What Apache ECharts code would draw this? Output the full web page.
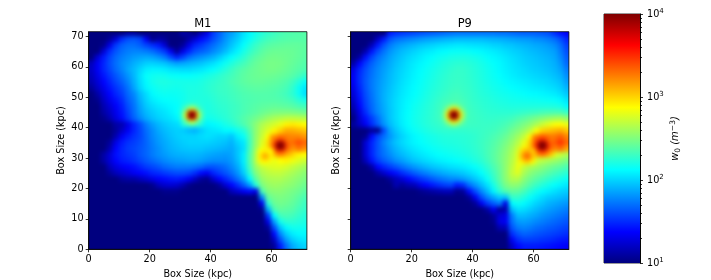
<!DOCTYPE html>
<html><head><meta charset="utf-8">
<script src="https://cdn.jsdelivr.net/npm/echarts@6/dist/echarts.min.js"></script>
<style>html,body{margin:0;padding:0;background:#fff}#c{width:711px;height:280px}</style>
</head><body><div id="c"></div>
<script>
// Cell centres in kpc
const xCenters=[1,3,5,7,9,11,13,15,17,19,21,23,25,27,29,31,33,35,37,39,41,43,45,47,49,51,53,55,57,59,61,63,65,67,69,71];
const yCenters=[71,69,67,65,63,61,59,57,55,53,51,49,47,45,43,41,39,37,35,33,31,29,27,25,23,21,19,17,15,13,11,9,7,5,3,1];
// w0 (m^-3), top row first
const m1Grid=[
[10,10,10,10,10,10,12,12,10,10,10,10,10,10,10,13,12,10,14,20,35,45,60,70,85,110,130,150,170,185,200,215,225,230,235,240],
[10,10,10,12,18,32,40,42,38,22,11,13,12,10,10,10,13,18,25,30,40,50,65,80,95,120,140,165,190,210,220,230,235,240,240,240],
[10,10,11,20,35,45,50,50,45,38,32,28,18,10,10,12,20,30,35,42,50,60,72,90,110,135,165,195,220,240,250,255,260,260,260,250],
[10,10,18,32,42,50,56,58,58,55,50,42,35,22,12,20,30,40,45,50,60,70,85,105,125,155,185,215,245,265,275,275,275,270,260,250],
[10,18,28,38,48,56,62,68,72,75,72,65,55,40,30,38,50,58,65,72,80,95,115,135,155,180,215,245,265,285,290,285,280,270,260,245],
[15,22,30,40,50,60,68,78,88,98,100,95,90,80,72,75,80,85,90,100,110,125,145,165,190,210,240,265,285,300,300,295,280,265,250,235],
[16,22,30,38,48,58,72,85,102,120,125,125,120,112,108,105,105,110,115,125,135,150,170,195,220,240,260,275,285,295,295,285,270,255,240,225],
[15,20,27,34,42,52,65,82,110,135,145,150,148,140,138,135,135,140,145,155,165,180,195,210,230,250,265,275,280,280,275,265,255,240,215,185],
[14,18,24,30,38,46,58,78,105,130,150,160,162,158,155,155,155,155,160,170,180,190,200,220,235,250,260,265,265,260,255,245,230,205,170,140],
[12,16,21,27,33,40,52,72,100,125,140,150,155,152,150,155,160,160,165,175,185,195,200,210,225,235,245,250,250,245,240,230,215,185,145,115],
[10,13,18,24,30,36,48,60,85,105,130,140,145,143,145,150,160,160,165,170,180,190,195,205,215,225,230,235,235,235,230,220,205,180,145,110],
[10,11,16,21,26,32,44,55,78,100,118,128,135,137,140,150,160,165,165,165,175,185,190,200,210,220,225,230,235,235,235,230,220,205,175,155],
[10,10,14,18,23,29,40,52,72,92,105,115,122,130,135,150,180,185,170,160,170,180,185,195,205,220,230,240,250,255,260,255,250,240,220,205],
[10,10,13,16,21,27,37,50,68,84,95,105,112,122,135,165,250,260,175,160,165,175,180,195,205,220,235,250,270,290,305,310,310,305,295,280],
[10,10,11,14,19,25,34,46,60,75,88,97,105,112,125,160,240,250,170,150,155,165,175,190,210,235,260,290,330,380,420,450,480,490,470,450],
[10,10,10,10,13,14,20,30,40,55,70,82,92,100,105,115,125,125,115,125,130,140,155,170,195,225,270,340,430,500,560,650,800,850,800,750],
[10,10,10,10,12,16,22,30,38,50,62,75,85,92,98,95,85,80,95,110,115,120,130,130,150,170,240,350,480,600,800,1000,1300,1300,1200,1100],
[10,10,10,10,14,22,28,33,38,48,60,70,80,88,95,100,100,100,105,110,105,100,100,90,120,140,220,360,520,750,1100,1700,1800,1700,1700,1500],
[10,10,10,12,20,28,33,36,40,47,57,67,75,83,90,95,100,100,100,100,95,92,88,80,100,115,210,370,600,900,1700,2500,2200,2000,2500,2100],
[10,10,10,14,24,30,35,38,42,47,55,63,72,80,85,90,92,92,92,88,85,82,78,75,90,110,220,390,650,900,1500,2300,1700,1500,1900,1600],
[10,10,13,18,26,30,33,36,42,47,55,62,68,74,78,80,82,82,80,75,72,70,68,72,90,120,240,420,850,800,850,1000,1000,950,800,750],
[10,10,13,18,24,28,30,33,38,43,48,54,60,65,68,70,72,72,70,65,62,62,62,68,85,120,240,430,650,650,650,750,800,680,600,530],
[10,10,10,15,19,22,24,26,30,35,38,42,48,52,55,55,55,52,48,42,42,45,50,60,75,110,220,380,500,560,600,600,560,500,450,400],
[10,10,10,12,15,17,19,22,24,26,30,32,35,38,40,40,38,32,25,22,30,36,42,50,65,95,180,320,430,480,500,500,460,420,380,340],
[10,10,10,10,10,12,13,13,15,17,20,23,25,27,28,26,22,16,12,11,17,24,30,38,50,70,130,250,370,420,430,430,400,370,340,310],
[10,10,10,10,10,10,10,10,10,10,11,15,17,18,17,14,11,10,10,10,10,12,18,24,32,45,70,170,310,370,390,380,360,340,310,280],
[10,10,10,10,10,10,10,10,10,10,10,10,11,11,11,10,10,10,10,10,10,10,10,15,18,22,25,20,220,320,340,340,320,300,280,250],
[10,10,10,10,10,10,10,10,10,10,10,10,10,10,10,10,10,10,10,10,10,10,10,10,10,10,10,10,60,260,300,310,300,280,250,220],
[10,10,10,10,10,10,10,10,10,10,10,10,10,10,10,10,10,10,10,10,10,10,10,10,10,10,10,10,22,180,270,290,280,260,230,200],
[10,10,10,10,10,10,10,10,10,10,10,10,10,10,10,10,10,10,10,10,10,10,10,10,10,10,10,10,11,80,220,260,250,240,210,190],
[10,10,10,10,10,10,10,10,10,10,10,10,10,10,10,10,10,10,10,10,10,10,10,10,10,10,10,10,10,35,130,210,220,210,190,170],
[10,10,10,10,10,10,10,10,10,10,10,10,10,10,10,10,10,10,10,10,10,10,10,10,10,10,10,10,10,20,70,150,180,180,170,160],
[10,10,10,10,10,10,10,10,10,10,10,10,10,10,10,10,10,10,10,10,10,10,10,10,10,10,10,10,10,12,40,90,130,150,150,145],
[10,10,10,10,10,10,10,10,10,10,10,10,10,10,10,10,10,10,10,10,10,10,10,10,10,10,10,10,10,10,25,60,95,120,130,130],
[10,10,10,10,10,10,10,10,10,10,10,10,10,10,10,10,10,10,10,10,10,10,10,10,10,10,10,10,10,10,16,40,70,95,110,115],
[10,10,10,10,10,10,10,10,10,10,10,10,10,10,10,10,10,10,10,10,10,10,10,10,10,10,10,10,10,10,12,28,50,75,90,100]
];
// w0 (m^-3), top row first
const p9Grid=[
[10,10,10,10,10,10,28,32,34,36,38,40,42,44,46,48,50,52,52,52,52,52,52,52,50,50,48,46,45,45,44,42,40,32,26,22],
[10,10,10,10,16,28,42,50,54,58,62,66,70,73,76,80,82,85,85,85,85,85,82,80,78,75,72,70,68,66,62,60,55,50,40,30],
[10,10,10,15,28,42,55,65,72,78,84,90,95,100,105,108,112,115,115,112,110,108,105,100,98,92,90,85,82,78,75,72,68,62,50,36],
[10,10,14,27,40,52,65,75,85,92,100,108,115,120,128,132,138,140,140,138,132,128,122,118,112,106,100,96,90,86,82,78,74,70,55,40],
[10,13,26,38,50,60,72,82,92,102,110,118,128,135,145,150,158,160,162,158,152,145,135,128,122,115,108,102,96,92,88,84,80,74,60,44],
[13,24,35,46,56,66,76,88,98,108,118,126,135,145,155,165,172,178,178,172,165,155,145,135,128,120,112,106,100,96,92,88,84,78,66,48],
[20,30,40,50,60,70,80,92,102,112,122,132,142,152,162,172,182,190,188,180,170,160,150,140,130,122,116,110,105,100,96,92,88,82,72,55],
[22,32,42,52,62,72,84,94,105,115,125,135,145,156,168,178,188,192,190,182,172,162,152,142,134,126,120,114,110,106,102,98,94,88,80,62],
[22,32,43,54,64,74,85,96,108,118,128,138,150,160,172,182,190,195,192,185,175,165,155,147,140,132,126,122,118,114,110,106,102,96,88,70],
[20,30,42,54,65,76,88,100,112,122,132,142,152,165,175,185,195,200,195,188,178,168,160,152,146,140,134,130,126,122,118,115,110,105,96,80],
[18,28,40,52,65,78,90,102,115,125,135,145,158,170,182,192,205,210,200,192,182,172,165,158,152,148,144,140,136,132,130,126,122,118,108,92],
[16,26,38,50,64,78,92,105,118,128,140,150,162,175,190,205,215,220,210,195,185,178,172,166,160,156,152,150,148,146,145,142,140,136,128,110],
[14,24,36,48,62,76,92,106,120,132,145,155,168,180,198,215,240,245,220,200,190,182,176,172,168,165,162,162,162,162,162,162,162,160,155,130],
[12,20,32,46,60,74,90,106,122,134,148,158,170,182,200,225,340,360,235,205,195,188,182,180,178,178,178,182,188,195,200,210,215,218,215,190],
[10,18,26,36,50,70,90,106,122,136,150,160,172,184,200,220,320,340,230,205,198,192,188,188,192,196,205,225,245,270,300,330,360,390,400,350],
[12,16,22,32,45,65,85,102,120,134,148,158,170,180,190,195,200,205,205,200,198,195,195,198,205,218,240,270,305,350,420,520,620,720,750,650],
[10,10,10,12,11,40,72,92,110,126,140,150,160,170,178,182,185,185,185,188,190,195,200,205,220,240,280,320,380,480,720,1000,1100,1200,1300,1100],
[10,10,11,25,38,50,66,84,100,115,128,138,148,155,162,168,170,172,175,178,185,195,205,220,240,270,320,390,500,750,1200,1900,1800,1900,2200,1700],
[10,10,18,30,42,58,74,90,104,116,126,134,142,150,156,162,165,168,172,178,186,198,212,232,260,300,360,460,650,1000,1900,2800,2200,2300,3000,2100],
[10,10,18,30,42,54,68,82,94,106,116,124,132,140,146,152,156,160,165,172,182,195,215,240,275,325,400,540,800,1100,1700,2300,1600,1700,2000,1400],
[10,10,18,30,42,52,62,74,84,94,104,112,120,128,135,140,145,150,156,164,175,190,215,245,285,340,430,600,1000,1100,900,800,700,600,520,430],
[10,10,15,26,36,44,52,62,70,80,90,98,105,112,120,125,130,135,142,150,162,178,205,240,285,350,450,620,800,620,520,470,420,380,340,300],
[10,10,10,13,24,30,36,42,50,58,66,74,82,90,96,102,108,112,118,126,138,155,182,220,270,350,480,650,500,420,380,340,300,270,250,220],
[10,10,10,10,13,17,22,26,32,38,45,52,58,66,72,78,84,88,94,104,116,134,160,200,260,350,500,600,420,340,300,270,240,215,195,175],
[10,10,10,10,10,10,12,15,18,23,28,33,38,44,50,55,60,62,68,78,92,110,140,185,250,340,440,450,340,280,245,215,190,170,155,140],
[10,10,10,10,10,10,10,14,12,14,15,20,24,28,32,36,38,28,32,50,65,85,110,155,220,300,350,340,280,230,195,170,150,135,125,115],
[10,10,10,10,10,10,10,10,10,10,10,11,12,13,14,15,15,11,12,25,40,60,85,125,180,230,260,255,215,175,150,130,120,110,100,95],
[10,10,10,10,10,10,10,10,10,10,10,10,10,10,10,10,10,10,10,12,22,40,58,75,95,90,190,190,165,140,120,105,95,90,85,80],
[10,10,10,10,10,10,10,10,10,10,10,10,10,10,10,10,10,10,10,10,12,22,35,45,55,20,130,145,130,115,100,90,80,75,70,66],
[10,10,10,10,10,10,10,10,10,10,10,10,10,10,10,10,10,10,10,10,10,10,13,22,12,14,85,110,105,95,85,76,70,65,60,56],
[10,10,10,10,10,10,10,10,10,10,10,10,10,10,10,10,10,10,10,10,10,10,10,12,18,20,55,85,85,78,72,65,60,56,52,48],
[10,10,10,10,10,10,10,10,10,10,10,10,10,10,10,10,10,10,10,10,10,10,10,11,20,22,50,68,70,66,60,56,52,48,45,42],
[10,10,10,10,10,10,10,10,10,10,10,10,10,10,10,10,10,10,10,10,10,10,10,10,14,15,42,55,58,55,50,47,44,42,39,37],
[10,10,10,10,10,10,10,10,10,10,10,10,10,10,10,10,10,10,10,10,10,10,10,10,10,10,32,42,47,45,42,40,38,36,34,32],
[10,10,10,10,10,10,10,10,10,10,10,10,10,10,10,10,10,10,10,10,10,10,10,10,10,10,22,32,36,36,35,33,32,30,28,27],
[10,10,10,10,10,10,10,10,10,10,10,10,10,10,10,10,10,10,10,10,10,10,10,10,10,10,16,24,28,28,28,27,26,25,24,23]
];
// Finer readings (1 kpc cells) around the compact sources
const coreX=[31,32,33,34,35,36,37];
const coreY=[47,46,45,44,43,42,41];
const m1Core=[
[170,190,220,260,220,190,170],
[190,270,500,800,500,270,190],
[220,500,6000,10000,6000,500,220],
[260,800,10000,10000,10000,800,260],
[220,500,6000,10000,6000,500,220],
[190,270,500,800,500,270,190],
[170,190,220,260,220,190,170]];
const p9Core=[
[220,260,320,400,320,260,220],
[260,420,800,1200,800,420,260],
[320,800,7000,10000,7000,800,320],
[400,1200,10000,10000,10000,1200,400],
[320,800,7000,10000,7000,800,320],
[260,420,800,1200,800,420,260],
[220,260,320,400,320,260,220]];
const hotX=[60,61,62,63,64,65,66];
const hotY=[37,36,35,34,33,32,31];
const m1Hot=[
[1500,1600,1800,2000,1900,1800,1700],
[1500,1800,2400,2800,2400,1900,1800],
[1600,2400,7000,10000,7000,2400,2000],
[1700,2800,10000,10000,10000,2800,2000],
[1600,2400,7000,10000,7000,2400,1800],
[1400,1800,2400,2800,2400,1800,1500],
[1100,1200,1500,1700,1500,1200,1100]];
const p9Hot=[
[1700,1900,2200,2400,2200,2000,1800],
[1800,2200,2800,3300,2800,2200,1900],
[1900,2800,7500,10000,7500,2800,2100],
[2000,3300,10000,10000,10000,3300,2200],
[1900,2800,7500,10000,7500,2800,1900],
[1500,2000,2700,3100,2700,1900,1500],
[1100,1400,1700,1900,1700,1300,1000]];
const spotX=[56,57,58,59,60];
const spotY=[32.5,31.5,30.5,29.5,28.5];
const m1Spot=[
[700,750,800,750,750],
[750,900,1100,900,800],
[800,1100,1700,1100,850],
[750,900,1100,900,750],
[650,700,750,700,650]];
const p9Spot=[
[900,1050,1200,1100,1000],
[1050,1400,1800,1400,1050],
[1100,1800,2400,1800,1050],
[1000,1350,1700,1350,900],
[750,900,1000,850,700]];
const tickValues=[0,20,40,60];
const yTickValues=[0,10,20,30,40,50,60,70];
const colorTicks=[10,100,1000,10000];
const colorMinorTicks=[20,30,40,50,60,70,80,90,200,300,400,500,600,700,800,900,2000,3000,4000,5000,6000,7000,8000,9000];
const jet=['#00007f','#0000ff','#007fff','#00ffff','#7fff7f','#ffff00','#ff7f00','#ff0000','#7f0000'];
const panels=[{t:'M1',left:88.7},{t:'P9',left:350.7}];
const W=218.2,H=217.6,TOP=31.7,XMAX=71.6,FONT='"DejaVu Sans"';

function cells(grid,xs,ys,half){
  const out=[];
  grid.forEach((row,j)=>row.forEach((v,i)=>out.push([xs[i],ys[j],Math.log10(v),half])));
  return out;
}
function renderCell(params,api){
  const x=api.value(0),y=api.value(1),h=api.value(3);
  // edge cells run past the frame so that the soft rendering does not fade at the border
  const x0=x-h<=0?-6:x-h, x1=x+h>=XMAX?XMAX+6:x+h;
  const y0=y-h<=0?-6:y-h, y1=y+h>=XMAX?XMAX+6:y+h;
  const a=api.coord([x0,y1]), b=api.coord([x1,y0]);
  return {type:'rect',shape:{x:a[0]-0.4,y:a[1]-0.4,width:b[0]-a[0]+0.8,height:b[1]-a[1]+0.8},
    style:{fill:api.visual('color')}};
}
const axisText={color:'#000',fontFamily:FONT,fontSize:9.7};
const lineDark={lineStyle:{color:'#000',width:0.8}};
const grid=[],xAxis=[],yAxis=[],series=[],title=[];
const sets=[[m1Grid,m1Core,m1Hot,m1Spot],[p9Grid,p9Core,p9Hot,p9Spot]];
panels.forEach((p,k)=>{
  grid.push({left:p.left,top:TOP,width:W,height:H,show:true,borderColor:'#000',borderWidth:0.8,backgroundColor:'transparent',zlevel:1,outerBoundsMode:'none'});
  xAxis.push({type:'value',gridIndex:k,min:0,max:XMAX,zlevel:1,name:'Box Size (kpc)',nameLocation:'middle',nameGap:20,
    nameTextStyle:axisText,splitLine:{show:false},axisLine:{show:true,...lineDark},
    axisTick:{show:true,length:3,customValues:tickValues,...lineDark},
    axisLabel:{...axisText,margin:5,customValues:tickValues,formatter:v=>String(v)}});
  yAxis.push({type:'value',gridIndex:k,min:0,max:XMAX,zlevel:1,name:'Box Size (kpc)',nameLocation:'middle',nameGap:k?9:22,
    nameTextStyle:axisText,splitLine:{show:false},axisLine:{show:true,...lineDark},
    axisTick:{show:true,length:3,customValues:yTickValues,...lineDark},
    axisLabel:{show:k===0,...axisText,margin:5,customValues:yTickValues,formatter:v=>String(v)}});
  const [g,c,h,s]=sets[k];
  series.push({type:'custom',name:p.t,xAxisIndex:k,yAxisIndex:k,zlevel:0,z:1,renderItem:renderCell,clip:false,
    data:cells(g,xCenters,yCenters,1),encode:{x:0,y:1},silent:true,animation:false});
  series.push({type:'custom',name:p.t+' core',xAxisIndex:k,yAxisIndex:k,zlevel:0,z:2,renderItem:renderCell,clip:false,
    data:cells(c,coreX,coreY,0.5).concat(cells(h,hotX,hotY,0.5),cells(s,spotX,spotY,0.5)),encode:{x:0,y:1},silent:true,animation:false});
  title.push({text:p.t,left:p.left+W/2,top:TOP-19,textAlign:'center',zlevel:1,
    textStyle:{color:'#000',fontFamily:FONT,fontSize:11.5,fontWeight:'normal'}});
});
// colour bar
grid.push({left:604,top:14,width:36,height:249,show:true,borderColor:'#000',borderWidth:0.8,zlevel:1,outerBoundsMode:'none'});
xAxis.push({type:'category',gridIndex:2,data:['w0'],show:false,zlevel:1});
const cbAxis={type:'log',logBase:10,gridIndex:2,min:10,max:10000,position:'right',zlevel:1,splitLine:{show:false},axisLine:{show:true,...lineDark}};
yAxis.push({...cbAxis,name:'{i|w}{s|0} {i|(m}{u|−3}{i|)}',nameLocation:'middle',nameGap:29,nameRotate:90,
  nameTextStyle:{...axisText,rich:{
    i:{...axisText,fontStyle:'italic',fontSize:10},
    s:{...axisText,fontSize:7.5,verticalAlign:'top',padding:[5,0,0,0]},
    u:{...axisText,fontSize:7.5,verticalAlign:'bottom',padding:[0,0,5,0]}}},
  axisTick:{show:true,length:3,customValues:colorTicks,...lineDark},
  axisLabel:{margin:7,customValues:colorTicks,
    formatter:v=>'{a|10}{b|'+Math.round(Math.log10(v))+'}',
    rich:{a:{...axisText},b:{...axisText,fontSize:7,verticalAlign:'bottom',padding:[0,0,5,0]}}}});
yAxis.push({...cbAxis,axisLabel:{show:false},axisTick:{show:true,length:2,customValues:colorMinorTicks,...lineDark}});
series.push({type:'bar',xAxisIndex:2,yAxisIndex:2,zlevel:1,barWidth:'100%',silent:true,animation:false,data:[10000],
  itemStyle:{color:new echarts.graphic.LinearGradient(0,0,0,1,jet.slice().reverse().map((c,i)=>({offset:i/8,color:c})))}});
const chart=echarts.init(document.getElementById('c'),null,{renderer:'canvas'});
chart.setOption({animation:false,backgroundColor:'transparent',title,grid,xAxis,yAxis,series,
  visualMap:{show:false,type:'continuous',min:1,max:4,dimension:2,seriesIndex:[0,1,2,3],inRange:{color:jet}}});
const heat=document.querySelector('canvas[data-zr-dom-id="zr_0"]')||document.querySelector('#c canvas');
const rect=(l,t,w,h)=>`M${l} ${t}H${l+w}V${t+h}H${l}Z`;
heat.style.filter='blur(2.2px)';
heat.style.clipPath=`path("${panels.map(p=>rect(p.left,TOP,W,H)).join(' ')}")`;
</script></body></html>
